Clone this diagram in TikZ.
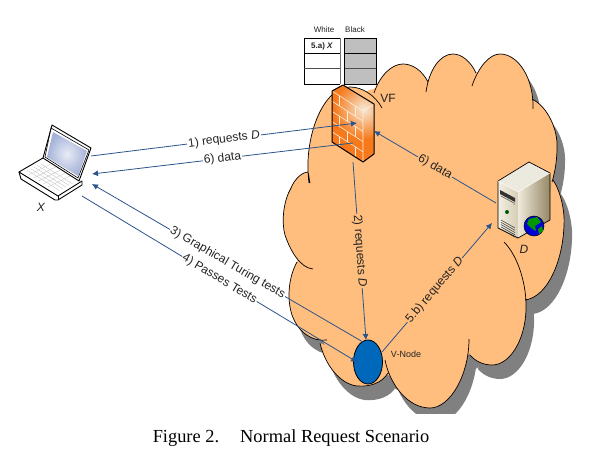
\documentclass[tikz,border=0pt]{standalone}
\usepackage{fontspec}
\setmainfont{Liberation Serif}
\setsansfont{Liberation Sans}
\usetikzlibrary{arrows.meta,shapes.geometric,calc}

\definecolor{cloudfill}{RGB}{255,190,125}
\definecolor{cloudshade}{RGB}{128,128,128}
\definecolor{msgblue}{RGB}{44,84,140}
\definecolor{wallorange}{RGB}{246,122,28}
\definecolor{wallpale}{RGB}{246,232,212}
\definecolor{nodeblue}{RGB}{0,104,186}
\definecolor{labelgray}{RGB}{35,35,35}
\definecolor{screenpale}{RGB}{232,236,246}
\definecolor{screendark}{RGB}{165,178,216}
\definecolor{boxtop}{RGB}{236,233,222}
\definecolor{boxfront}{RGB}{243,239,226}
\definecolor{boxfrontb}{RGB}{214,205,182}
\definecolor{boxside}{RGB}{238,233,218}
\definecolor{boxsideb}{RGB}{150,136,102}

\tikzset{
  msg/.style={draw=msgblue,line width=0.8pt,-{Latex[length=6pt,width=6pt]}},
  msgtext/.style={font=\sffamily\fontsize{12}{14}\selectfont,text=labelgray,fill=#1,inner sep=1pt,sloped},
  msgtext/.default=white,
  tag/.style={font=\sffamily\fontsize{#1}{#1}\selectfont,text=labelgray,inner sep=0pt},
  brick/.style={draw=white!85!orange,line width=0.6pt},
  edge/.style={draw=black,line width=1pt,line join=round}
}

% lobes of the cloud, each one with its own tail
\def\cloudlobes{
  (309,183) .. controls (303,140) and (322,87) .. (350,87) .. controls (362,87) and (375,95) .. (382,108)
  (374,93) .. controls (380,75) and (392,64) .. (403,64) .. controls (412,64) and (422,70) .. (428,82)
  (426,92) .. controls (429,70) and (440,54) .. (453,54) .. controls (462,54) and (471,62) .. (476,73)
  (472,86) .. controls (478,68) and (489,54) .. (500,54) .. controls (518,54) and (534,78) .. (533,109)
  (532,99) .. controls (548,107) and (558,130) .. (557,148) .. controls (557,160) and (555,172) .. (552,182)
  (553,180) .. controls (560,190) and (565,210) .. (564,225) .. controls (563,260) and (548,297) .. (525,300)
  (504,242) .. controls (518,256) and (527,285) .. (526,310) .. controls (525,340) and (510,365) .. (492,365) .. controls (483,365) and (475,361) .. (470,355)
  (469,339) .. controls (469,375) and (450,408) .. (430,408) .. controls (408,408) and (390,385) .. (385,360)
  (388,373) .. controls (382,383) and (370,387) .. (357,386) .. controls (340,384) and (325,365) .. (320,343)
  (327,340) .. controls (312,342) and (298,332) .. (292,315) .. controls (287,300) and (288,278) .. (297,262)
  (313,269) .. controls (300,268) and (290,250) .. (285,235) .. controls (281,220) and (284,200) .. (291,188) .. controls (295,178) and (303,172) .. (308,172) .. controls (309,175) and (309,179) .. (310,183)
}
\def\cloudcore{
  (309,180) -- (340,100) -- (376,88) -- (428,80) -- (475,72) -- (532,100) -- (553,178) -- (525,300) -- (475,350) -- (430,380) -- (390,376) -- (325,346) -- (297,262) -- cycle
}
\def\wallshape{(332,91) -- (343,85) -- (374,104) -- (374,154) -- (363,162) -- (332,142) -- cycle}

\begin{document}
\begin{tikzpicture}[x=1pt,y=-1pt,>=Latex]
  \useasboundingbox (0,0) rectangle (596,454);

  % ================= cloud =================
  \begin{scope}
    \clip (0,0) rectangle (596,413);
    \begin{scope}[shift={(8,14)}]
      \fill[cloudshade] \cloudlobes \cloudcore;
    \end{scope}
  \end{scope}
  \fill[cloudfill] \cloudlobes \cloudcore;
  \draw[black,line width=0.7pt] \cloudlobes;

  % ================= lists =================
  \fill[white] (304,38) rectangle (340,84);
  \fill[black!25] (344,38) rectangle (376,84);
  \draw[black!55,line width=1pt] (340,38) -- (340,84);
  \draw[black,line width=0.7pt] (304,84) -- (304,38) -- (340,38) (304,53) -- (340,53) (304,84) -- (340,84);
  \draw[black!70,line width=1pt] (304,69) -- (340,69) (344,69) -- (376,69);
  \draw[black,line width=0.7pt] (344,38) rectangle (376,84) (344,53) -- (376,53);
  \node[tag=8] (white) at (324,30) {White};
  \node[tag=8] (black) at (355,30) {Black};
  \node[tag=8,font=\sffamily\bfseries\fontsize{8}{8}\selectfont] (entry) at (322,46) {5.a) \textit{X}};

  % ================= firewall =================
  \begin{scope}
    \clip \wallshape;
    \fill[wallorange] (325,80) rectangle (380,170);
    \shade[inner color=wallpale,outer color=wallorange] (364,109) circle (30);
  \end{scope}
  \begin{scope}[shift={(332,91)},x={(31pt,-20pt)},y={(0pt,-51pt)}]
    \foreach \v in {0.2,0.4,0.6,0.8} {
      \draw[brick] (0,\v) -- (1,\v);
    }
    \foreach \u/\v in {0.25/0,0.75/0,0.5/0.2,0.25/0.4,0.75/0.4,0.5/0.6,0.25/0.8,0.75/0.8} {
      \draw[brick] (\u,\v) -- (\u,\v+0.2);
    }
  \end{scope}
  \draw[brick] (332,91) -- (363,111) -- (374,104) (363,111) -- (363,162);
  \draw[edge] \wallshape;
  \node[tag=12] (vf) at (388,98) {VF};

  % ================= laptop =================
  \fill[white] (52,125) -- (91,148) -- (82,185) -- (58,200) -- (55,200) -- (21,179) -- (19,172) -- (43,158) -- cycle;
  \draw[black,line width=0.9pt,line join=round] (52,125) -- (91,148) -- (79,181) -- (43,158) -- cycle;
  \draw[black,line width=0.6pt] (51,128) -- (89,150) -- (78,178) -- (45,157) -- cycle;
  \shade[inner color=screenpale,outer color=screendark] (53,132) -- (87,151) -- (78,176) -- (47,157) -- cycle;
  \foreach \t in {0.15,0.3,...,0.9} {
    \draw[black!22,line width=0.4pt] ($(24,172)!\t!(46,161)$) -- ($(56,192)!\t!(78,181)$);
    \draw[black!22,line width=0.4pt] ($(24,172)!\t!(56,192)$) -- ($(46,161)!\t!(78,181)$);
  }
  \draw[black,line width=0.9pt,line join=round] (43,158) -- (19,172) -- (58,196) -- (82,181);
  \draw[black,line width=0.9pt,line join=round] (19,172) -- (21,179) -- (55,200) -- (58,200) -- (82,185) -- (82,181);
  \draw[black,line width=0.6pt] (58,196) -- (58,200);
  \node[tag=12,font=\sffamily\itshape\fontsize{12}{12}\selectfont] (laptop) at (41,207) {X};

  % ================= server =================
  \fill[boxtop] (529,162) -- (550,173) -- (518,192) -- (498,181) -- cycle;
  \shade[left color=boxfront,right color=boxfrontb] (498,181) -- (518,192) -- (518,238) -- (498,228) -- cycle;
  \shade[left color=boxside,right color=boxsideb] (518,192) -- (550,173) -- (550,220) -- (518,238) -- cycle;
  \draw[black,line width=0.7pt,line join=round] (529,162) -- (550,173) -- (550,220) -- (518,238) -- (498,228) -- (498,181) -- cycle;
  \draw[white,line width=0.5pt] (498,181) -- (518,192) -- (550,173);
  \fill[black!80] (500,190) -- (515,198) -- (515,202) -- (500,194) -- cycle;
  \draw[black!70,line width=0.5pt] (501,196) -- (514,203) -- (514,205);
  \fill[black!65!green] (507,212) circle (2pt);
  \foreach \d in {0,2.3,...,9.5} {
    \draw[black!80,line width=0.5pt] (501,220+\d) -- (515,228+\d);
  }
  \node[circle,fill=blue!85!black,draw=black,line width=0.5pt,minimum size=20pt,inner sep=0pt] (globe) at (534,226) {};
  \fill[green!60!black] (529,219) -- (537,217) -- (541,222) -- (535,226) -- (536,231) -- (531,228) -- (527,224) -- cycle;
  \fill[green!60!black] (538,229) -- (542,226) -- (543,231) -- (539,234) -- cycle;
  \node[tag=12,font=\sffamily\itshape\fontsize{12}{12}\selectfont] (server) at (524,249) {D};

  % ================= V-Node =================
  \node[ellipse,draw=black,line width=0.8pt,fill=nodeblue,minimum width=29pt,minimum height=44pt,inner sep=0pt] (vnode) at (368,362) {};
  \node[tag=9] (vlabel) at (406,354) {V-Node};

  % ================= ports =================
  \coordinate (lapout) at (91,156);
  \coordinate (lapin) at (92,174);
  \coordinate (lapin2) at (92,184);
  \coordinate (lapout2) at (82,196);
  \coordinate (wallin) at (357,123);
  \coordinate (wallout) at (353,143);
  \coordinate (wallbot) at (353,162);
  \coordinate (wallside) at (374,131);
  \coordinate (srvout) at (496,203);
  \coordinate (srvin) at (492,223);
  \coordinate (vtop) at (366,340);
  \coordinate (vout) at (363,342);
  \coordinate (vin) at (357,362);
  \coordinate (vright) at (382,352);

  % ================= messages =================
  \draw[msg] (lapout) -- node[msgtext] {1) requests \textit{D}} (wallin);
  \draw[msg] (wallout) -- node[msgtext] {6) data} (lapin);
  \draw[msg] (wallbot) -- node[msgtext=cloudfill] {2) requests \textit{D}} (vtop);
  \draw[msg] (vout) -- node[msgtext] {3) Graphical Turing tests} (lapin2);
  \draw[msg] (lapout2) -- node[msgtext] {4) Passes Tests} (vin);
  \draw[msg] (vright) -- node[msgtext=cloudfill,pos=0.48] {5.b) requests \textit{D}} (srvin);
  \draw[msg] (srvout) -- node[msgtext=cloudfill] {6) data} (wallside);

  % ================= caption =================
  \node[font=\rmfamily\fontsize{18.4}{20}\selectfont,text=black,inner sep=0pt] (caption) at (291,438) {Figure 2.\hspace{21pt}Normal Request Scenario};
\end{tikzpicture}
\end{document}
